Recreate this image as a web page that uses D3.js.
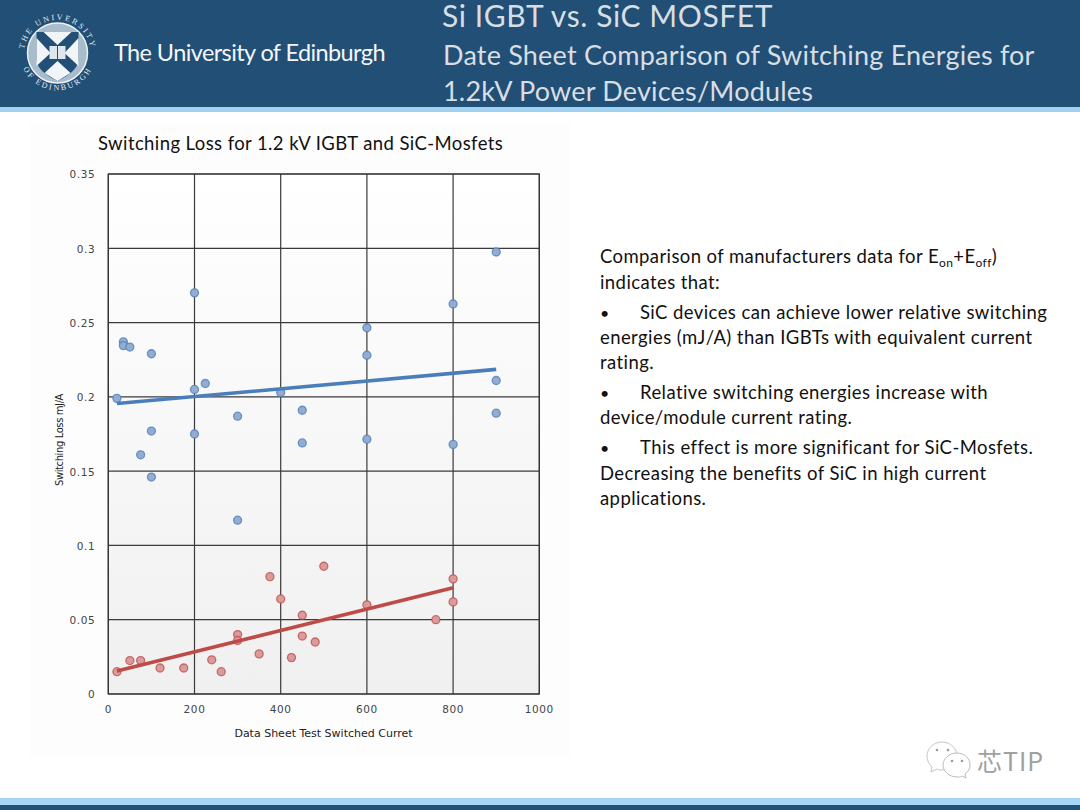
<!DOCTYPE html>
<html>
<head>
<meta charset="utf-8">
<script src="https://cdn.jsdelivr.net/npm/d3@7"></script>
<style>
  html, body { margin: 0; padding: 0; background: #fff; }
  svg { display: block; }
  text { font-family: Lato, "Open Sans", sans-serif; }
</style>
</head>
<body>
<div id="chart"></div>
<script>
// values
var igbtCurrent = [20, 35, 35, 50, 100, 75, 100, 100, 200, 200, 200, 225, 300, 300, 400, 450, 450, 600, 600, 600, 800, 800, 900, 900, 900];
var igbtLoss = [0.199, 0.237, 0.2345, 0.2335, 0.229, 0.161, 0.177, 0.146, 0.27, 0.205, 0.175, 0.209, 0.187, 0.117, 0.203, 0.191, 0.169, 0.2465, 0.228, 0.1715, 0.2625, 0.168, 0.2975, 0.211, 0.189];
var sicCurrent = [20, 50, 75, 120, 175, 240, 262, 300, 300, 350, 375, 400, 425, 450, 450, 480, 500, 600, 760, 800, 800];
var sicLoss = [0.015, 0.0225, 0.0225, 0.0175, 0.0175, 0.023, 0.015, 0.04, 0.036, 0.027, 0.079, 0.064, 0.0245, 0.053, 0.039, 0.035, 0.086, 0.06, 0.05, 0.0775, 0.062];
var igbtTrendX = [20, 900];
var igbtTrendY = [0.1955, 0.2185];
var sicTrendX = [20, 800];
var sicTrendY = [0.0155, 0.0715];
var xTicks = [0, 200, 400, 600, 800, 1000];
var yTicks = [0, 0.05, 0.1, 0.15, 0.2, 0.25, 0.3, 0.35];
var sideText = [
  'indicates that:',
  '•',
  'SiC devices can achieve lower relative switching',
  'energies (mJ/A) than IGBTs with equivalent current',
  'rating.',
  '•',
  'Relative switching energies increase with',
  'device/module current rating.',
  '•',
  'This effect is more significant for SiC-Mosfets.',
  'Decreasing the benefits of SiC in high current',
  'applications.'
];
var sideX = [600, 600, 640, 600, 600, 600, 640, 600, 600, 640, 600, 600];
var sideY = [288.5, 318.5, 318.5, 343.5, 368.5, 398.5, 398.5, 423.5, 453.5, 453.5, 479.5, 504.5];

var svg = d3.select('#chart').append('svg')
  .attr('width', 1080)
  .attr('height', 810);

var defs = svg.append('defs');
var grad = defs.append('linearGradient')
  .attr('id', 'plotbg')
  .attr('x1', 0).attr('y1', 0).attr('x2', 0).attr('y2', 1);
grad.append('stop').attr('offset', '0%').attr('stop-color', '#ffffff');
grad.append('stop').attr('offset', '100%').attr('stop-color', '#f0f0f0');

// slide header and footer
svg.append('rect').attr('width', 1080).attr('height', 107).attr('fill', '#224f75');
svg.append('rect').attr('y', 107).attr('width', 1080).attr('height', 5).attr('fill', '#a1d1f1');
svg.append('rect').attr('y', 798).attr('width', 1080).attr('height', 7).attr('fill', '#a6d4f2');
svg.append('rect').attr('y', 805).attr('width', 1080).attr('height', 5).attr('fill', '#224f75');

// crest
var crest = svg.append('g').attr('transform', 'translate(57.5,53)');
crest.append('circle').attr('r', 30).attr('fill', '#a9bccb').attr('stroke', '#eef2f6').attr('stroke-width', 1.5);
crest.append('path').attr('d', 'M-21,-21H21V6Q21,18 0,28Q-21,18 -21,6Z').attr('fill', '#224f75');
crest.append('path').attr('d', 'M-21,-15L-7,0L-21,13ZM21,-15L7,0L21,13ZM-14,-21H14L0,-8ZM-13,20L0,8L13,20L0,28Z').attr('fill', '#f2f5f8');
crest.append('rect').attr('x', -8).attr('y', -7).attr('width', 16).attr('height', 13).attr('fill', '#dfe7ee');
crest.append('path').attr('d', 'M0,-7V6').attr('stroke', '#224f75').attr('stroke-width', 1);

var crestArcs = crest.append('g');
crestArcs.append('path').attr('id', 'crestTop').attr('d', 'M-32.6,8A33.5,33.5 0 1 1 32.6,8').attr('fill', 'none');
crestArcs.append('path').attr('id', 'crestBottom').attr('d', 'M-37,8A38,38 0 0 0 37,8').attr('fill', 'none');
crestArcs.append('text').attr('font-size', 8).attr('fill', '#e8eef3').attr('letter-spacing', 2.2)
  .style('font-family', '"Liberation Serif", serif')
  .append('textPath').attr('href', '#crestTop').attr('startOffset', '50%').attr('text-anchor', 'middle')
  .text('THE UNIVERSITY');
crestArcs.append('text').attr('font-size', 8).attr('fill', '#e8eef3').attr('letter-spacing', 2.2)
  .style('font-family', '"Liberation Serif", serif')
  .append('textPath').attr('href', '#crestBottom').attr('startOffset', '50%').attr('text-anchor', 'middle')
  .text('OF EDINBURGH');

svg.append('text').attr('x', 114).attr('y', 61).attr('font-size', 23.5).attr('letter-spacing', -0.6)
  .attr('fill', '#f4f7fa').text('The University of Edinburgh');

// slide title
svg.append('text').attr('x', 442).attr('y', 27).attr('font-size', 30).attr('letter-spacing', 0.6).attr('fill', '#d8dee3').text('Si IGBT vs. SiC MOSFET');
svg.append('text').attr('x', 443).attr('y', 64.5).attr('font-size', 27).attr('letter-spacing', 0.2).attr('fill', '#d8dee3').text('Date Sheet Comparison of Switching Energies for');
svg.append('text').attr('x', 443).attr('y', 100.5).attr('font-size', 27).attr('letter-spacing', 0.2).attr('fill', '#d8dee3').text('1.2kV Power Devices/Modules');

// chart panel
svg.append('rect').attr('x', 30).attr('y', 124).attr('width', 540).attr('height', 632).attr('fill', '#fdfdfd');

var x = d3.scaleLinear().domain([0, 1000]).range([108.3, 539.3]);
var y = d3.scaleLinear().domain([0, 0.35]).range([694, 174]);

svg.append('rect')
  .attr('x', x(0)).attr('y', y(0.35))
  .attr('width', x(1000) - x(0)).attr('height', y(0) - y(0.35))
  .attr('fill', 'url(#plotbg)');

var xAxis = svg.append('g')
  .attr('transform', 'translate(0,' + y(0) + ')')
  .call(d3.axisBottom(x).tickValues(xTicks).offset(0).tickSize(-(y(0) - y(0.35))).tickPadding(12).tickFormat(d3.format('d')));
var yAxis = svg.append('g')
  .attr('transform', 'translate(' + x(0) + ',0)')
  .call(d3.axisLeft(y).tickValues(yTicks).offset(0).tickSize(-(x(1000) - x(0))).tickPadding(13).tickFormat(function(d) { return String(d); }));

[xAxis, yAxis].forEach(function(a)
{
  a.selectAll('.domain').attr('stroke', 'none');
  a.selectAll('line').attr('stroke', '#3a3a3a').attr('stroke-width', 1.2);
  a.selectAll('text').attr('fill', '#444').attr('font-size', 10.5).attr('letter-spacing', 0.6)
    .style('font-family', '"DejaVu Sans", sans-serif');
});
yAxis.selectAll('text').attr('dy', '0.42em');

// frame
svg.append('rect')
  .attr('x', x(0)).attr('y', y(0.35))
  .attr('width', x(1000) - x(0)).attr('height', y(0) - y(0.35))
  .attr('fill', 'none').attr('stroke', '#333').attr('stroke-width', 1.2);

var trend = d3.line()
  .x(function(d) { return x(d[0]); })
  .y(function(d) { return y(d[1]); });

var drawSeries = function(xs, ys, tx, ty, fill, edge, lineColor)
{
  svg.append('g').selectAll('circle')
    .data(d3.zip(xs, ys))
    .enter().append('circle')
    .attr('cx', function(d) { return x(d[0]); })
    .attr('cy', function(d) { return y(d[1]); })
    .attr('r', 4)
    .attr('fill', fill)
    .attr('stroke', edge)
    .attr('stroke-opacity', 0.8)
    .attr('stroke-width', 1.3);
  svg.append('path')
    .attr('d', trend(d3.zip(tx, ty)))
    .attr('fill', 'none')
    .attr('stroke', lineColor)
    .attr('stroke-width', 3.6);
};

drawSeries(igbtCurrent, igbtLoss, igbtTrendX, igbtTrendY, '#94acd0', '#4f81bd', '#4a7ebb');
drawSeries(sicCurrent, sicLoss, sicTrendX, sicTrendY, '#d99c9c', '#c0504d', '#be4b48');

svg.append('text').attr('x', 98).attr('y', 149.5).attr('font-size', 18.5).attr('letter-spacing', 0.4).attr('fill', '#111')
  .text('Switching Loss for 1.2 kV IGBT and SiC-Mosfets');
svg.append('text').attr('x', 323.5).attr('y', 737).attr('text-anchor', 'middle')
  .attr('font-size', 11).attr('fill', '#222')
  .style('font-family', '"DejaVu Sans", sans-serif')
  .text('Data Sheet Test Switched Curret');
svg.append('text').attr('transform', 'translate(63,440) rotate(-90)').attr('text-anchor', 'middle')
  .attr('font-size', 10).attr('letter-spacing', -0.4).attr('fill', '#222')
  .style('font-family', '"DejaVu Sans", sans-serif')
  .text('Switching Loss mJ/A');

// side text
var first = svg.append('text').attr('x', 600).attr('y', 262.5).attr('font-size', 18.5).attr('letter-spacing', 0.4).attr('fill', '#111');
first.append('tspan').text('Comparison of manufacturers data for E');
first.append('tspan').attr('font-size', 12).attr('dy', 4).text('on');
first.append('tspan').attr('dy', -4).text('+E');
first.append('tspan').attr('font-size', 12).attr('dy', 4).text('off');
first.append('tspan').attr('dy', -4).text(')');

svg.append('g').selectAll('text')
  .data(sideText)
  .enter().append('text')
  .attr('x', function(d, i) { return sideX[i]; })
  .attr('y', function(d, i) { return sideY[i]; })
  .attr('font-size', function(d) { return d === '•' ? 16 : 18.5; })
  .attr('letter-spacing', 0.42)
  .attr('fill', '#111')
  .text(function(d) { return d; });

// watermark
var mark = svg.append('g');
mark.append('path')
  .attr('d', 'M942,742C933,742 927,749 927,756C927,761 929,764 932,767L931,772L937,769C939,770 941,770 942,770C951,770 957,763 957,756C957,749 951,742 942,742Z')
  .attr('fill', '#fff').attr('stroke', '#c4c4c4').attr('stroke-width', 1);
mark.append('path')
  .attr('d', 'M957,753C949,753 943,759 943,765C943,771 949,777 957,777C959,777 960,777 962,776L966,778L965,774C968,772 970,769 970,765C970,759 965,753 957,753Z')
  .attr('fill', '#fff').attr('stroke', '#bcbcbc').attr('stroke-width', 1);
mark.append('g').selectAll('circle')
  .data([[937, 750], [948, 750], [952, 761], [962, 761]])
  .enter().append('circle')
  .attr('cx', function(d) { return d[0]; })
  .attr('cy', function(d) { return d[1]; })
  .attr('r', 1.3)
  .attr('fill', '#9a9a9a');
mark.append('text').attr('x', 977).attr('y', 771).attr('font-size', 25).attr('letter-spacing', 1).attr('fill', '#a0a0a0')
  .style('font-family', '"Noto Sans CJK SC", sans-serif').text('芯TIP');
</script>
</body>
</html>
